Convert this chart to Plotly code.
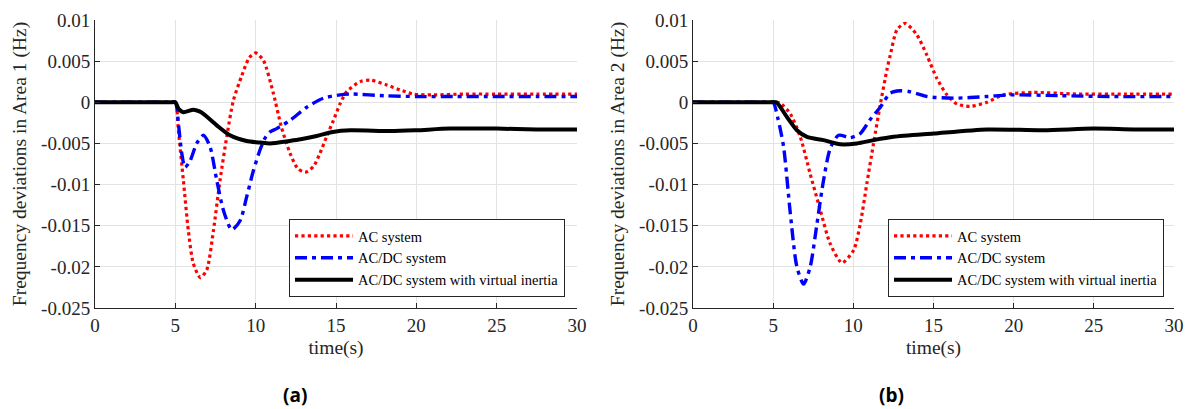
import plotly.graph_objects as go

# ---------------- data ----------------
# Area 1 (a)
t_ac1 = [0, 1, 2, 3, 4, 4.7, 5.0, 5.19, 5.5, 5.81, 6.12, 6.55, 6.95, 7.37, 7.78, 8.2, 8.61, 9.13, 9.6,
         10.0, 10.48, 11.1, 11.6, 12.14, 12.6, 13.08, 13.6, 14.0, 14.45, 14.84, 15.25, 15.67, 16.5,
         17.12, 18.16, 19.0, 19.8, 21.0, 23.0, 25.0, 27.5, 30.0]
y_ac1 = [0, 0, 0, 0, 0, 0, 0, -0.0034, -0.0095, -0.0156, -0.0196, -0.0213, -0.0204, -0.0156, -0.0095,
         -0.0042, 0.0002, 0.0032, 0.0054, 0.0060, 0.0051, 0.0011, -0.0030, -0.0062, -0.0080, -0.0085,
         -0.0078, -0.0062, -0.0040, -0.0022, -0.0002, 0.0013, 0.0025, 0.0027, 0.0021, 0.0015, 0.0010,
         0.0009, 0.0010, 0.0010, 0.0010, 0.0010]

t_dc1 = [0, 1, 2, 3, 4, 4.7, 5.0, 5.19, 5.4, 5.6, 5.92, 6.33, 6.75, 7.16, 7.58, 7.99, 8.51, 9.03, 9.44,
         9.86, 10.27, 10.6, 10.9, 11.31, 12.14, 13.18, 14.22, 15.25, 16.0, 18.0, 20.0, 22.5, 25.0,
         27.5, 30.0]
y_dc1 = [0, 0, 0, 0, 0, 0, 0, -0.0026, -0.0062, -0.0079, -0.0071, -0.0050, -0.0040, -0.0054, -0.0095,
         -0.0131, -0.0155, -0.0144, -0.0115, -0.0083, -0.0058, -0.0043, -0.0036, -0.0032, -0.0022,
         -0.0006, 0.0005, 0.0009, 0.0010, 0.0008, 0.0007, 0.0007, 0.0007, 0.0007, 0.0007]

t_vi1 = [0, 1, 2, 3, 4, 4.7, 5.0, 5.2, 5.5, 6.12, 6.5, 6.75, 7.58, 8.4, 9.44, 10.3, 10.9, 12.1, 12.8,
         13.8, 14.8, 15.9, 18.4, 20.0, 22.1, 25.0, 27.5, 30.0]
y_vi1 = [0, 0, 0, 0, 0, 0, 0, -0.0008, -0.0012, -0.0009, -0.0011, -0.0014, -0.0028, -0.0040, -0.0047,
         -0.0049, -0.0050, -0.0047, -0.0045, -0.0041, -0.0036, -0.0034, -0.0035, -0.0034, -0.0032,
         -0.0032, -0.0033, -0.0033]

# Area 2 (b)
t_ac2 = [0, 1, 2, 3, 4, 4.8, 5.2, 5.44, 6.07, 6.69, 7.31, 7.94, 8.56, 9.29, 10.01, 10.43, 10.85,
         11.26, 11.68, 12.09, 12.3, 12.72, 13.23, 13.96, 14.59, 15.21, 15.84, 16.46, 17.29, 18.33,
         19.36, 21.23, 23.9, 27.0, 30.0]
y_ac2 = [0, 0, 0, 0, 0, 0, 0, -0.0001, -0.0014, -0.0042, -0.0087, -0.0131, -0.0172, -0.0195, -0.0180,
         -0.0148, -0.0098, -0.0050, -0.0003, 0.0039, 0.0057, 0.0088, 0.0096, 0.0082, 0.0057, 0.0029,
         0.0009, -0.0002, -0.0005, 0.0000, 0.0009, 0.0012, 0.0010, 0.0010, 0.0010]

t_dc2 = [0, 1, 2, 3, 4, 4.7, 5.0, 5.3, 5.65, 6.07, 6.48, 6.9, 7.31, 7.73, 8.14, 8.56, 9.08, 9.81,
         10.43, 11.05, 11.68, 12.3, 12.92, 13.5, 14.59, 16.25, 18.33, 19.78, 22.9, 26.0, 30.0]
y_dc2 = [0, 0, 0, 0, 0, 0, 0, -0.0020, -0.0054, -0.0135, -0.0200, -0.0221, -0.0200, -0.0148, -0.0095,
         -0.0056, -0.0040, -0.0043, -0.0038, -0.0021, -0.0006, 0.0011, 0.0014, 0.0013, 0.0007, 0.0005,
         0.0007, 0.0009, 0.0008, 0.0007, 0.0007]

t_vi2 = [0, 1, 2, 3, 4, 4.8, 5.19, 5.86, 6.48, 7.11, 8.14, 9.18, 10.22, 11.26, 12.5, 15.0, 18.33,
         21.85, 24.97, 27.5, 30.0]
y_vi2 = [0, 0, 0, 0, 0, 0, 0, -0.0018, -0.0034, -0.0042, -0.0046, -0.0051, -0.0050, -0.0046, -0.0042,
         -0.0038, -0.0033, -0.0034, -0.0032, -0.0033, -0.0033]

series_names = ["AC system", "AC/DC system", "AC/DC system with virtual inertia"]
x_tickvals = [0, 5, 10, 15, 20, 25, 30]
x_ticktext = ["0", "5", "10", "15", "20", "25", "30"]
y_tickvals = [0.01, 0.005, 0, -0.005, -0.01, -0.015, -0.02, -0.025]
y_ticktext = ["0.01", "0.005", "0", "-0.005", "-0.01", "-0.015", "-0.02", "-0.025"]
y_titles = ["Frequency deviations in Area 1 (Hz)", "Frequency deviations in Area 2 (Hz)"]
x_title = "time(s)"
captions = ["(a)", "(b)"]

# ---------------- figure ----------------
W, H = 1189, 409
SERIF = "Liberation Serif"
TXT = "#262626"

fig = go.Figure()

styles = [
    dict(color="#ff0000", width=3.2, dash="dot"),
    dict(color="#0000ff", width=3.4, dash="12px,5px,4px,5px"),
    dict(color="#000000", width=4.0, dash="solid"),
]

panels = [
    ([t_ac1, t_dc1, t_vi1], [y_ac1, y_dc1, y_vi1], "x", "y", "legend"),
    ([t_ac2, t_dc2, t_vi2], [y_ac2, y_dc2, y_vi2], "x2", "y2", "legend2"),
]
for ts, ys, xa, ya, lg in panels:
    for name, t, y, st in zip(series_names, ts, ys, styles):
        fig.add_trace(go.Scatter(
            x=t, y=y, mode="lines", name=name, xaxis=xa, yaxis=ya, legend=lg,
            line=dict(color=st["color"], width=st["width"], dash=st["dash"],
                      shape="spline", smoothing=0.7),
        ))

ydom = [1 - 308 / H, 1 - 20 / H]
xdoms = [[95 / W, 577 / W], [693 / W, 1174 / W]]

axis_common = dict(
    showline=True, linecolor=TXT, linewidth=1, mirror=False,
    showgrid=True, gridcolor="#e3e3e3", gridwidth=1, zeroline=False,
    ticks="inside", ticklen=5, tickcolor=TXT, tickwidth=1, automargin=False,
    tickfont=dict(family=SERIF, size=19, color=TXT),
)

layout_axes = {}
for i, (xa, ya) in enumerate([("xaxis", "yaxis"), ("xaxis2", "yaxis2")]):
    xk = "x" if i == 0 else "x2"
    yk = "y" if i == 0 else "y2"
    layout_axes[xa] = dict(
        axis_common, domain=xdoms[i], range=[0, 30], anchor=yk,
        tickvals=x_tickvals, ticktext=x_ticktext,
        title=dict(text=x_title, font=dict(family=SERIF, size=19.5, color=TXT), standoff=5),
    )
    layout_axes[ya] = dict(
        axis_common, domain=ydom, range=[-0.025, 0.01], anchor=xk,
        tickvals=y_tickvals, ticktext=y_ticktext,
        title=dict(text=y_titles[i], font=dict(family=SERIF, size=19.5, color=TXT), standoff=9),
    )

legend_common = dict(
    xanchor="left", yanchor="top", bgcolor="white",
    bordercolor=TXT, borderwidth=1,
    font=dict(family=SERIF, size=14.5, color="#000000"),
    itemwidth=58, tracegroupgap=0,
)

fig.update_layout(
    width=W, height=H, autosize=False,
    margin=dict(l=0, r=0, t=0, b=0, pad=0, autoexpand=False),
    font=dict(family=SERIF, color=TXT),
    paper_bgcolor="white", plot_bgcolor="white",
    showlegend=True,
    legend=dict(legend_common, x=289 / W, y=1 - 219 / H),
    legend2=dict(legend_common, x=888 / W, y=1 - 219 / H),
    **layout_axes,
)

for cap, cx in zip(captions, [295, 891]):
    fig.add_annotation(
        text="<b>" + cap + "</b>", x=cx / W, y=1 - 395 / H, xref="paper", yref="paper",
        showarrow=False, xanchor="center", yanchor="middle",
        font=dict(family="Open Sans", size=19, color="#000000"),
    )

fig.write_html("out.html")
